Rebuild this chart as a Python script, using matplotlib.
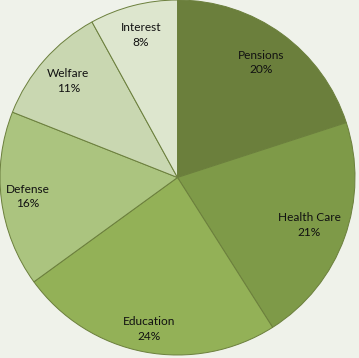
import matplotlib
matplotlib.use("Agg")
import matplotlib.pyplot as plt
import numpy as np

categories = ["Pensions", "Health Care", "Education", "Defense", "Welfare", "Interest"]
shares = [20, 21, 24, 16, 11, 8]
colors = ["#6b7f3c", "#7e9a48", "#93b157", "#abc47f", "#c9d7b1", "#dde6ce"]
label_radius = [0.80, 0.79, 0.87, 0.85, 0.82, 0.83]

fig = plt.figure(figsize=(3.59, 3.58), dpi=100)
fig.patch.set_facecolor("#eff2ea")
ax = fig.add_axes([0, 0, 1, 1])
ax.set_facecolor("#eff2ea")

wedges, _ = ax.pie(shares, colors=colors, startangle=90, counterclock=False,
                   radius=1.0,
                   wedgeprops=dict(edgecolor="#6b7f3c", linewidth=0.7))

for w, name, val, r in zip(wedges, categories, shares, label_radius):
    mid = np.deg2rad((w.theta1 + w.theta2) / 2)
    ax.text(r * np.cos(mid), r * np.sin(mid), f"{name}\n{val}%",
            ha="center", va="center", fontsize=8.6, family="Lato",
            color="#111111", linespacing=1.4)

ax.set_xlim(-177.5 / 177.5, (359 - 177.5) / 177.5)
ax.set_ylim(-(358 - 177.5) / 177.5, 177.5 / 177.5)
ax.set_aspect("auto")
ax.axis("off")

fig.savefig("out.png", dpi=100, facecolor=fig.get_facecolor())
